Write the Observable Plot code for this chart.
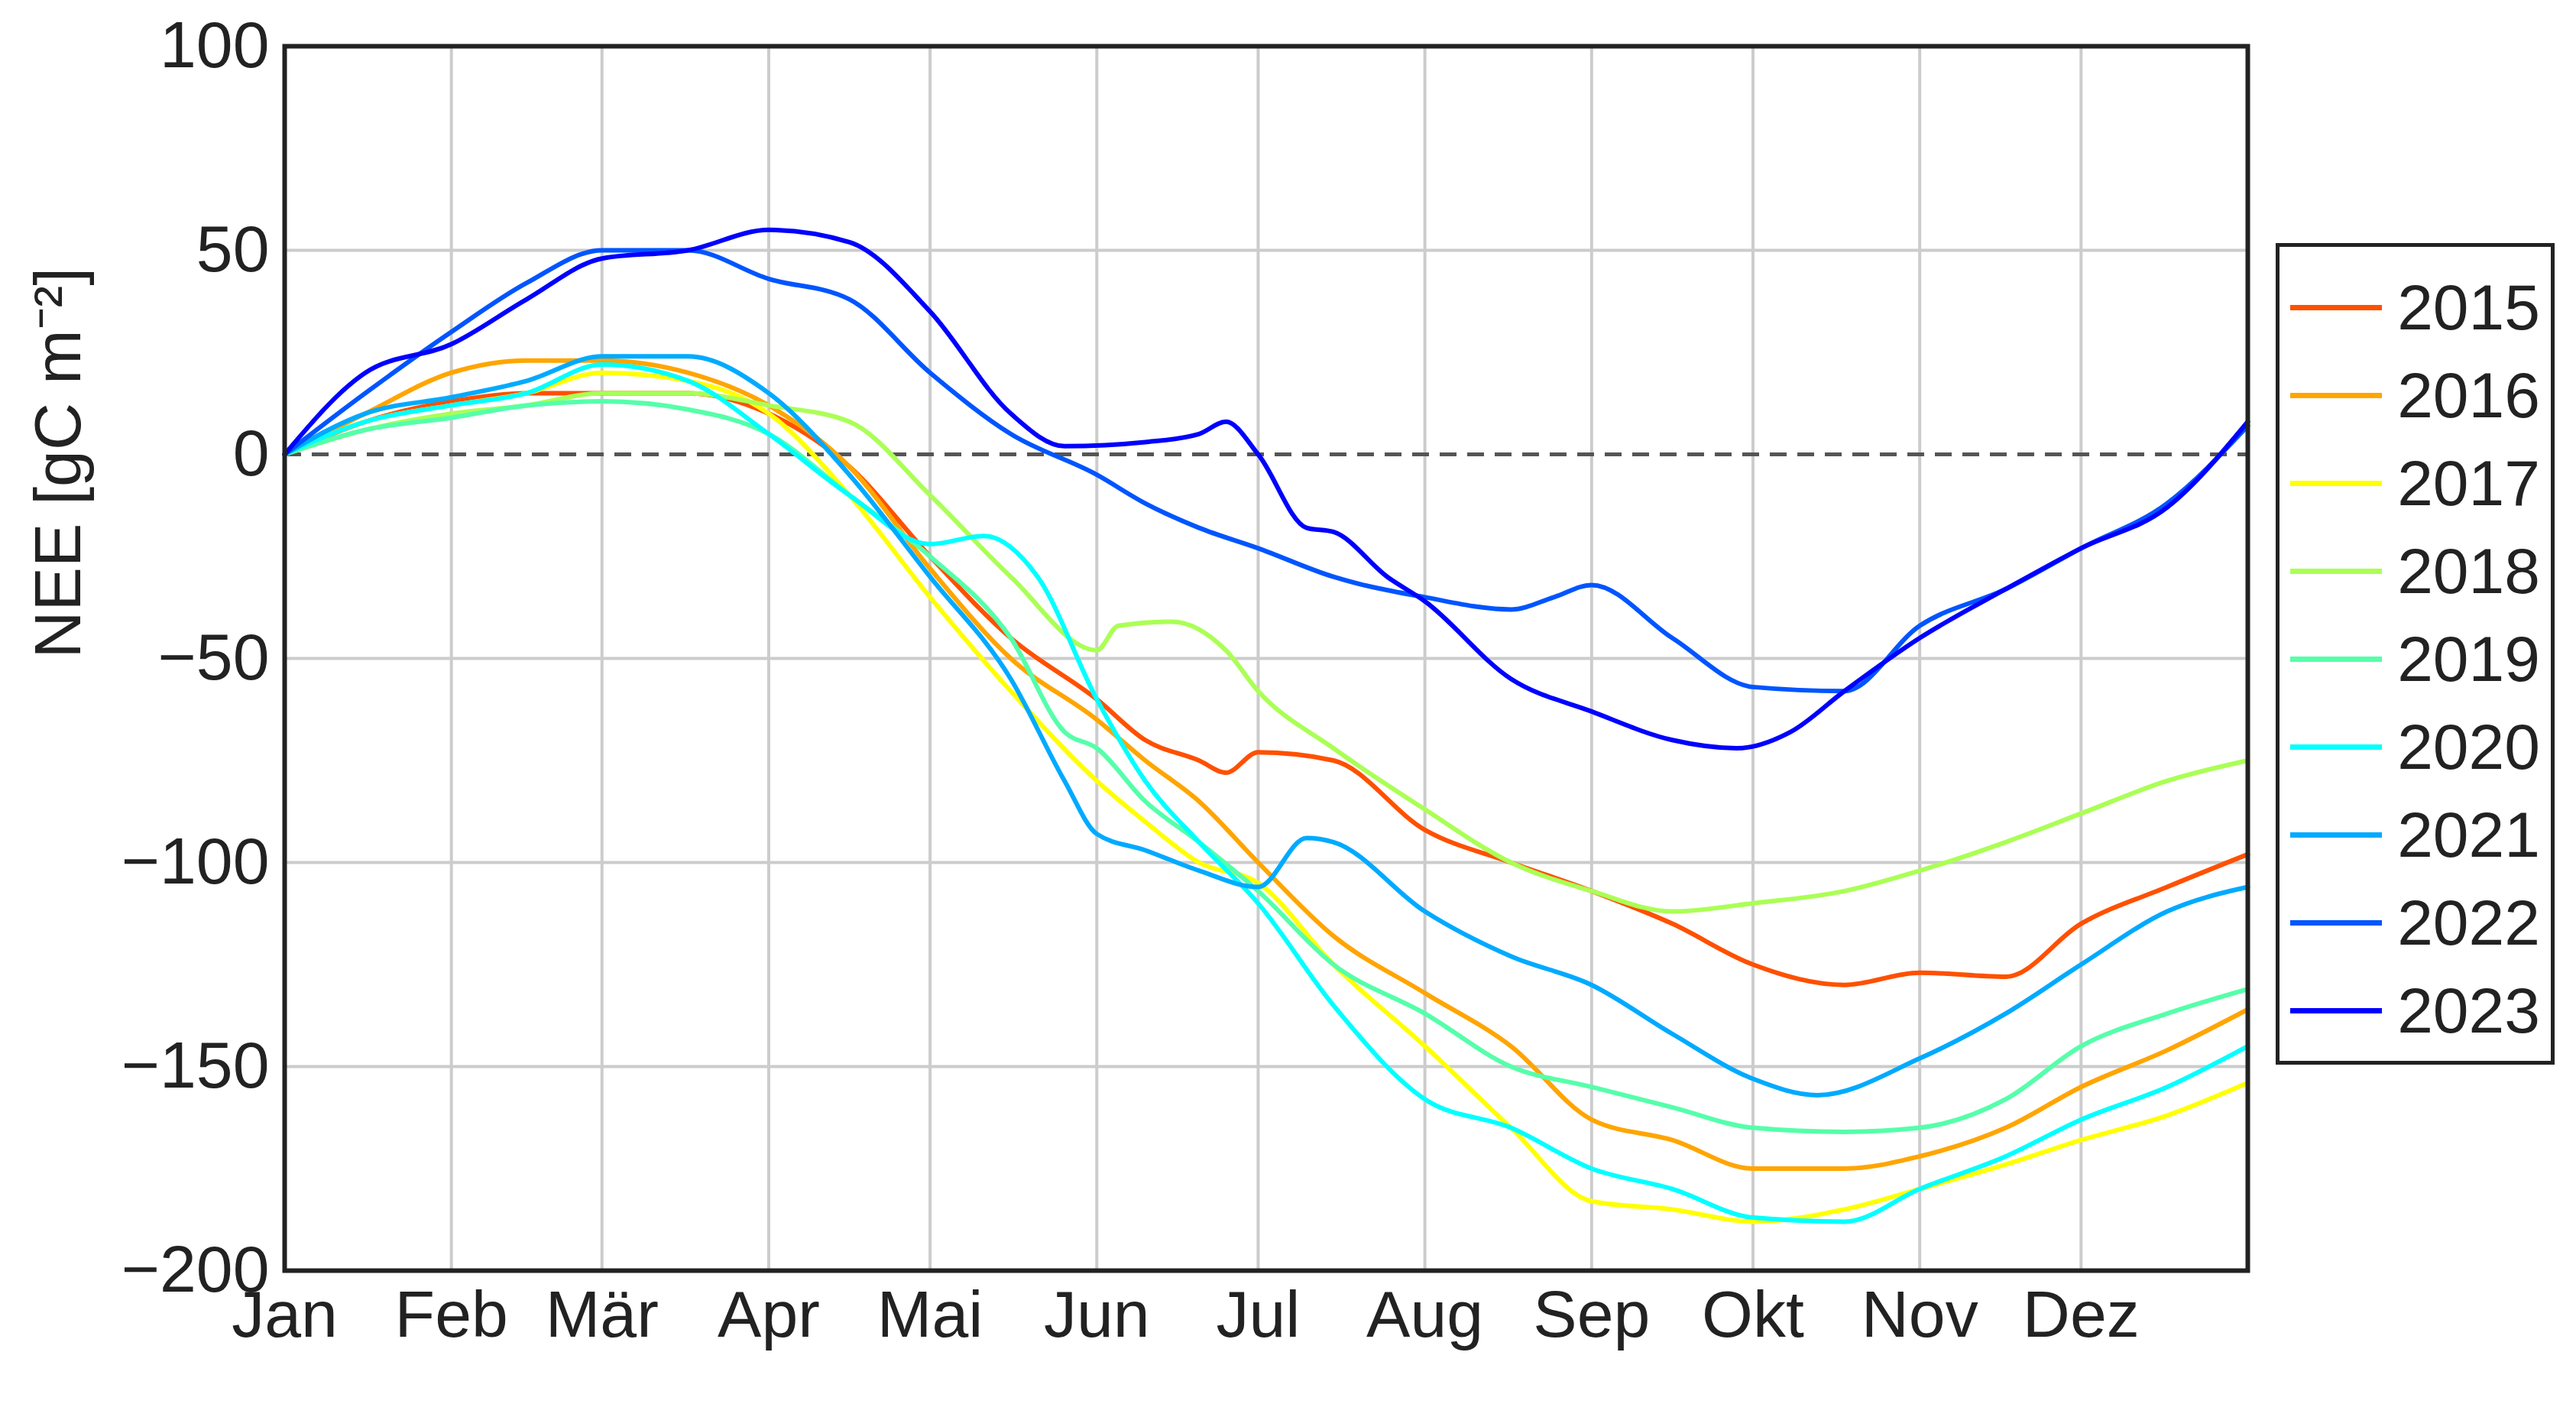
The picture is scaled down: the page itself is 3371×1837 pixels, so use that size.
<!DOCTYPE html>
<html><head><meta charset="utf-8">
<script src="https://cdn.jsdelivr.net/npm/d3@7"></script>
<script src="https://cdn.jsdelivr.net/npm/@observablehq/plot@0.6"></script>
<style>body{margin:0;background:#fff;font-family:"Liberation Sans",Arial,sans-serif}
#wrap{position:relative;width:3371px;height:1837px}
#wrap svg{position:absolute;left:0;top:0}
#legend{position:absolute;left:2978px;top:318px;width:365px;height:1075px;border:5px solid #222;background:#fff;box-sizing:border-box;padding:22px 14px}
.it{display:flex;align-items:center;height:115px;font-size:84px;color:#222}
.sw{width:135px;height:7px;margin-right:20px}
</style></head><body><div id="wrap"><div id="legend"></div></div>
<script>
const years=["2015","2016","2017","2018","2019","2020","2021","2022","2023"];
const colors=["#ff5000","#ffa500","#ffff00","#aaff55","#55ffaa","#00ffff","#00aaff","#0055ff","#0000ff"];
const monthLabels=["Jan","Feb","Mär","Apr","Mai","Jun","Jul","Aug","Sep","Okt","Nov","Dez"];
const monthStarts=[0,31,59,90,120,151,181,212,243,273,304,334];
const yTicks=[-200,-150,-100,-50,0,50,100];
const s2015=[[0,0],[15,8],[31,13],[45,15],[59,15],[75,15],[90,10],[105,-3],[120,-25],[135,-45],[151,-60],[160,-70],[170,-75],[175,-78],[181,-73],[195,-75],[212,-92],[228,-100],[243,-107],[258,-115],[273,-125],[290,-130],[304,-127],[320,-128],[334,-115],[350,-106],[365,-98]];
const s2016=[[0,0],[15,10],[31,20],[45,23],[59,23],[75,20],[90,12],[105,-3],[120,-28],[135,-50],[151,-65],[160,-75],[170,-85],[181,-100],[195,-118],[212,-132],[228,-145],[243,-163],[258,-168],[273,-175],[290,-175],[304,-172],[320,-165],[334,-155],[350,-146],[365,-136]];
const s2017=[[0,0],[15,8],[31,12],[45,15],[59,20],[75,18],[90,10],[105,-10],[120,-35],[135,-58],[151,-80],[160,-90],[170,-100],[181,-105],[195,-125],[212,-145],[228,-165],[243,-183],[258,-185],[273,-188],[290,-185],[304,-180],[320,-174],[334,-168],[350,-162],[365,-154]];
const s2018=[[0,0],[15,6],[31,10],[45,12],[59,15],[75,15],[90,12],[105,8],[120,-10],[135,-30],[151,-48],[155,-42],[165,-41],[175,-48],[181,-58],[195,-72],[212,-87],[228,-100],[243,-107],[258,-112],[273,-110],[290,-107],[304,-102],[320,-95],[334,-88],[350,-80],[365,-75]];
const s2019=[[0,0],[15,6],[31,9],[45,12],[59,13],[75,11],[90,5],[105,-10],[120,-25],[135,-45],[145,-68],[151,-72],[160,-85],[170,-95],[181,-107],[195,-125],[212,-137],[228,-150],[243,-155],[258,-160],[273,-165],[290,-166],[304,-165],[320,-158],[334,-145],[350,-137],[365,-131]];
const s2020=[[0,0],[15,8],[31,12],[45,15],[59,22],[75,18],[90,5],[105,-10],[120,-22],[130,-20],[140,-30],[151,-60],[160,-80],[170,-95],[181,-110],[195,-135],[212,-158],[228,-165],[243,-175],[258,-180],[273,-187],[290,-188],[304,-180],[320,-172],[334,-163],[350,-155],[365,-145]];
const s2021=[[0,0],[15,10],[31,14],[45,18],[59,24],[75,24],[90,15],[105,-5],[120,-30],[135,-55],[145,-80],[151,-93],[160,-97],[170,-102],[181,-106],[190,-94],[195,-95],[212,-112],[228,-123],[243,-130],[258,-142],[273,-153],[285,-157],[304,-148],[320,-137],[334,-125],[350,-112],[365,-106]];
const s2022=[[0,0],[15,15],[31,30],[45,42],[59,50],[75,50],[90,43],[105,38],[120,20],[135,5],[151,-5],[160,-12],[170,-18],[181,-23],[195,-30],[212,-35],[228,-38],[236,-35],[243,-32],[258,-45],[273,-57],[290,-58],[304,-42],[320,-33],[334,-23],[350,-12],[365,7]];
const s2023=[[0,0],[15,20],[31,27],[45,38],[59,48],[75,50],[90,55],[105,52],[120,35],[135,10],[145,2],[160,3],[170,5],[175,8],[181,0],[190,-18],[195,-19],[205,-30],[212,-36],[228,-55],[243,-63],[258,-70],[270,-72],[280,-68],[290,-58],[304,-45],[320,-33],[334,-23],[350,-13],[365,8]];
const series=[s2015,s2016,s2017,s2018,s2019,s2020,s2021,s2022,s2023];
const data=series.flatMap((s,i)=>s.map(([d,v])=>({day:d,nee:v,year:years[i]})));
const plot=Plot.plot({
  width:3371,height:1837,marginLeft:372,marginRight:430,marginTop:60,marginBottom:175,
  style:{fontFamily:"Liberation Sans, Arial, sans-serif",fontSize:"86px",color:"#222",background:"transparent"},
  x:{type:"linear",domain:[0,365]},y:{type:"linear",domain:[-200,100]},
  color:{domain:years,range:colors},
  marks:[
    Plot.ruleX(monthStarts,{x:d=>d,stroke:"#ccc",strokeWidth:4}),
    Plot.ruleY([-150,-100,-50,50],{y:d=>d,stroke:"#ccc",strokeWidth:4}),
    Plot.ruleY([0],{y:d=>d,stroke:"#555",strokeWidth:5,strokeDasharray:"22,14"}),
    Plot.line(data,{x:"day",y:"nee",z:"year",stroke:"year",strokeWidth:6,curve:"monotone-x"}),
    Plot.frame({stroke:"#222",strokeWidth:6}),
    Plot.axisX(monthStarts,{tickFormat:d=>monthLabels[monthStarts.indexOf(d)],tickSize:0,tickPadding:25,label:null,fontSize:86}),
    Plot.axisY(yTicks,{tickSize:0,tickPadding:20,label:null,fontSize:86}),
    Plot.text(["NEE [gC m⁻²]"],{frameAnchor:"left",dx:-295,rotate:-90,fontSize:86,fill:"#222"})
  ]
});
document.getElementById("wrap").prepend(plot);
const lg=document.getElementById("legend");
years.forEach((y,i)=>{lg.insertAdjacentHTML("beforeend",`<div class="it"><div class="sw" style="background:${colors[i]}"></div>${y}</div>`)});
</script></body></html>
